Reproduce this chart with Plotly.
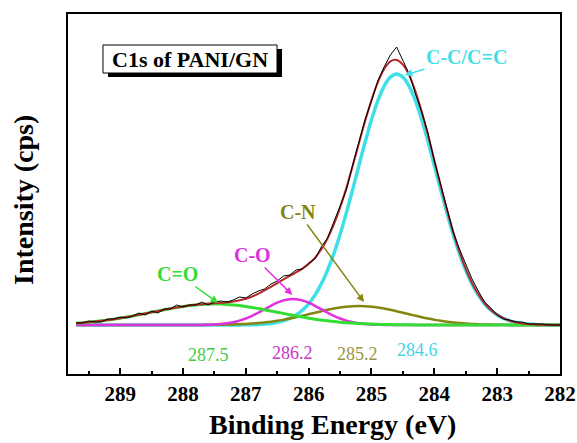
import plotly.graph_objects as go

# Binding energy grid (eV), high -> low
energy = [289.7, 289.6, 289.5, 289.4, 289.3, 289.2, 289.1, 289.0, 288.9, 288.8,
          288.7, 288.6, 288.5, 288.4, 288.3, 288.2, 288.1, 288.0, 287.9, 287.8,
          287.7, 287.6, 287.5, 287.4, 287.3, 287.2, 287.1, 287.0, 286.9, 286.8,
          286.7, 286.6, 286.5, 286.4, 286.3, 286.2, 286.1, 286.0, 285.9, 285.8,
          285.7, 285.6, 285.5, 285.4, 285.3, 285.2, 285.1, 285.0, 284.9, 284.8,
          284.7, 284.6, 284.5, 284.4, 284.3, 284.2, 284.1, 284.0, 283.9, 283.8,
          283.7, 283.6, 283.5, 283.4, 283.3, 283.2, 283.1, 283.0, 282.9, 282.8,
          282.7, 282.6, 282.5, 282.4, 282.3, 282.2, 282.1, 282.0]

# Fitted component C-C/C=C (284.6 eV)
cc = [0, 0, 0, 0, 0, 0, 0, 0, 0, 0, 0, 0, 0, 0, 0, 0, 0, 0, 0, 0,
      0, 0, 0, 0, 0, 0.1, 0.1, 0.2, 0.3, 0.6, 1, 1.6, 2.7, 4.2, 6.6, 10, 14.7, 21.2, 29.9, 40.9,
      54.7, 71.2, 90.5, 112.1, 135.4, 159.5, 183.2, 205.2, 224.1, 238.7, 247.9, 251, 247.9, 238.7, 224.1, 205.2, 183.2, 159.5, 135.4, 112.1,
      90.5, 71.2, 54.7, 40.9, 29.9, 21.2, 14.7, 10, 6.6, 4.2, 2.7, 1.6, 1, 0.6, 0.3, 0.2, 0.1, 0.1]
# C-N (285.2 eV)
cn = [0, 0, 0, 0, 0, 0, 0, 0, 0, 0, 0, 0, 0, 0, 0, 0, 0, 0, 0, 0,
      0.1, 0.1, 0.2, 0.3, 0.4, 0.5, 0.8, 1.1, 1.5, 2.0, 2.6, 3.3, 4.2, 5.3, 6.5, 7.8, 9.2, 10.8, 12.3, 13.8,
      15.2, 16.5, 17.5, 18.3, 18.8, 19, 18.8, 18.3, 17.5, 16.5, 15.2, 13.8, 12.3, 10.8, 9.2, 7.8, 6.5, 5.3, 4.2, 3.3,
      2.6, 2.0, 1.5, 1.1, 0.8, 0.5, 0.4, 0.3, 0.2, 0.1, 0.1, 0, 0, 0, 0, 0, 0, 0]
# C-O (286.2 eV)
co = [0, 0, 0, 0, 0, 0, 0, 0, 0, 0, 0, 0, 0, 0, 0, 0, 0, 0, 0, 0.1,
      0.1, 0.3, 0.5, 1.0, 1.7, 2.8, 4.4, 6.5, 9.2, 12.3, 15.8, 19.2, 22.3, 24.6, 25.8, 25.8, 24.6, 22.3, 19.2, 15.8,
      12.3, 9.2, 6.5, 4.4, 2.8, 1.7, 1.0, 0.5, 0.3, 0.1, 0.1, 0, 0, 0, 0, 0, 0, 0, 0, 0,
      0, 0, 0, 0, 0, 0, 0, 0, 0, 0, 0, 0, 0, 0, 0, 0, 0, 0]
# C=O (287.5 eV)
c2o = [1.9, 2.3, 2.8, 3.4, 4.2, 5.0, 5.8, 6.8, 7.9, 9.0, 10.2, 11.5, 12.7, 14.0, 15.2, 16.4, 17.5, 18.5, 19.4, 20.1,
       20.6, 20.9, 21, 20.9, 20.6, 20.1, 19.4, 18.5, 17.5, 16.4, 15.2, 14.0, 12.7, 11.5, 10.2, 9.0, 7.9, 6.8, 5.8, 5.0,
       4.2, 3.4, 2.8, 2.3, 1.9, 1.5, 1.2, 0.9, 0.7, 0.5, 0.4, 0.3, 0.2, 0.2, 0.1, 0.1, 0.1, 0, 0, 0,
       0, 0, 0, 0, 0, 0, 0, 0, 0, 0, 0, 0, 0, 0, 0, 0, 0, 0]
# Envelope (fit sum)
envelope = [1.9, 2.3, 2.8, 3.4, 4.2, 5.0, 5.8, 6.8, 7.9, 9.0, 10.2, 11.5, 12.7, 14.0, 15.2, 16.4, 17.5, 18.5, 19.4, 20.2,
            20.8, 21.3, 21.7, 22.2, 22.7, 23.5, 24.7, 26.3, 28.5, 31.3, 34.6, 38.1, 41.9, 45.6, 49.1, 52.6, 56.4, 61.1, 67.2, 75.5,
            86.4, 100.3, 117.3, 137.1, 158.9, 181.7, 204.2, 224.9, 242.6, 255.8, 263.6, 265.1, 260.4, 249.7, 233.4, 213.1, 189.8, 164.8, 139.6, 115.4,
            93.1, 73.2, 56.2, 42.0, 30.7, 21.7, 15.1, 10.3, 6.8, 4.3, 2.8, 1.6, 1.0, 0.6, 0.3, 0.2, 0.1, 0.1]
# Raw measured spectrum
raw = [2, 2, 4, 3, 3, 6, 6, 8, 7, 9, 12, 10, 14, 12, 16, 16, 20, 18, 20, 20,
       23, 20, 23, 24, 23, 25, 28, 27, 31, 34, 36, 41, 44, 49, 50, 55, 56, 62, 66, 78,
       87, 103, 117, 135, 160, 182, 206, 224, 244, 258, 270, 278, 264, 251, 231, 213, 192, 164, 141, 117,
       93, 76, 61, 46, 34, 23, 17, 10, 6, 5, 3, 3, 1, 1, 1, 0, 0, 0]

tick_vals = [289, 288, 287, 286, 285, 284, 283, 282]
peak_labels = ["287.5", "286.2", "285.2", "284.6"]

CYAN = "#3fdfe8"
RED = "#b8282a"
MAG = "#e030e0"
OLIVE = "#858510"
GREEN = "#33dd33"
SERIF = "Liberation Serif"

fig = go.Figure()
fig.add_trace(go.Scatter(x=energy, y=cc, mode="lines", line=dict(color=CYAN, width=3.5, shape="spline")))
fig.add_trace(go.Scatter(x=energy, y=cn, mode="lines", line=dict(color=OLIVE, width=2.5, shape="spline")))
fig.add_trace(go.Scatter(x=energy, y=co, mode="lines", line=dict(color=MAG, width=2.5, shape="spline")))
fig.add_trace(go.Scatter(x=energy, y=c2o, mode="lines", line=dict(color=GREEN, width=3, shape="spline")))
fig.add_trace(go.Scatter(x=energy, y=envelope, mode="lines", line=dict(color=RED, width=2, shape="spline")))
fig.add_trace(go.Scatter(x=energy, y=raw, mode="lines", line=dict(color="black", width=1)))

def arrow(text, hx, hy, tx, ty, color):
    fig.add_annotation(x=hx, y=hy, ax=tx, ay=ty, xref="x", yref="y", axref="x", ayref="y",
                       text="<b>%s</b>" % text, showarrow=True, arrowhead=2, arrowsize=1,
                       arrowwidth=1.5, arrowcolor=color, xanchor="center", yanchor="middle",
                       font=dict(family=SERIF, size=20, color=color))

arrow("C-C/C=C", 284.47, 250, 283.49, 268, CYAN)
arrow("C-N", 285.12, 23, 286.17, 113, OLIVE)
arrow("C-O", 286.26, 30, 286.90, 70, MAG)
arrow("C=O", 287.44, 22, 288.08, 51, GREEN)

lab_x = [287.60, 286.26, 285.23, 284.26]
lab_y = [-30, -28, -29, -25]
lab_c = ["#44cc44", "#cc33cc", "#9a9440", "#44d4e4"]
for t, lx, ly, lc in zip(peak_labels, lab_x, lab_y, lab_c):
    fig.add_annotation(x=lx, y=ly, xref="x", yref="y", text=t, showarrow=False,
                       xanchor="center", yanchor="middle",
                       font=dict(family=SERIF, size=18, color=lc))

# Title box with shadow
fig.add_shape(type="rect", xref="paper", yref="paper", x0=0.0813, x1=0.4350, y0=0.825, y1=0.9028,
              fillcolor="black", line=dict(width=0), layer="above")
fig.add_shape(type="rect", xref="paper", yref="paper", x0=0.0711, x1=0.4248, y0=0.8361, y1=0.9139,
              fillcolor="white", line=dict(color="black", width=1), layer="above")
fig.add_annotation(xref="paper", yref="paper", x=0.248, y=0.875, text="<b>C1s of PANI/GN</b>",
                   showarrow=False, xanchor="center", yanchor="middle",
                   font=dict(family=SERIF, size=22, color="black"))

# Axis titles
fig.add_annotation(xref="paper", yref="paper", x=0.5386, y=-0.14, text="<b>Binding Energy (eV)</b>",
                   showarrow=False, xanchor="center", yanchor="middle",
                   font=dict(family=SERIF, size=28, color="black"))
fig.add_annotation(xref="paper", yref="paper", x=-0.0915, y=0.4833, text="<b>Intensity (cps)</b>",
                   showarrow=False, textangle=-90, xanchor="center", yanchor="middle",
                   font=dict(family=SERIF, size=28, color="black"))

fig.update_layout(
    width=577, height=443, autosize=False,
    margin=dict(l=68, r=17, t=14, b=69, autoexpand=False),
    paper_bgcolor="white", plot_bgcolor="white",
    showlegend=False,
    xaxis=dict(range=[289.83, 282], tickmode="array", tickvals=tick_vals,
               ticktext=[str(v) for v in tick_vals], automargin=False,
               ticks="inside", ticklen=6, tickwidth=1.5, tickcolor="black",
               minor=dict(ticks="inside", ticklen=3, tickwidth=1.5, tickcolor="black", dtick=0.5, tick0=282),
               showline=True, linewidth=2, linecolor="black", mirror=True,
               showgrid=False, zeroline=False, ticklabelstandoff=0,
               tickfont=dict(family=SERIF, size=21, color="black", weight="bold")),
    yaxis=dict(range=[-49, 311], showticklabels=False, ticks="", automargin=False,
               showline=True, linewidth=2, linecolor="black", mirror=True,
               showgrid=False, zeroline=False),
)

post = ("document.body.style.margin='0px';"
        "document.body.style.overflow='hidden';"
        "var gd=document.getElementById('{plot_id}');"
        "Plotly.relayout(gd,{width:577,height:443});")
fig.write_html("out.html", config={"displayModeBar": False, "responsive": False}, post_script=post)
